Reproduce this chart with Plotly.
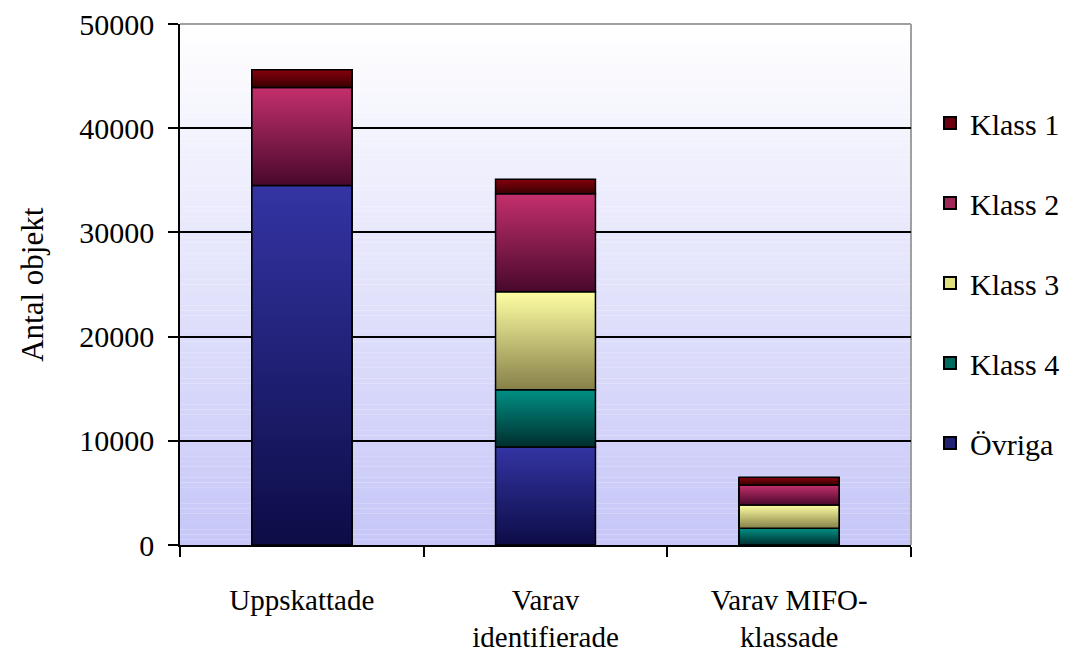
import plotly.graph_objects as go

# Categories (x axis) and stacked series values
categories = ["Uppskattade", "Varav<br>identifierade", "Varav MIFO-<br>klassade"]
ovriga = [34500, 9400, 0]
klass4 = [0, 5500, 1600]
klass3 = [0, 9400, 2250]
klass2 = [9400, 9400, 1900]
klass1 = [1700, 1400, 750]

y_ticks = [0, 10000, 20000, 30000, 40000, 50000]

FONT = "Liberation Serif"
BAR_W = 0.41

# name, values, legend colour, gradient (bottom -> top)
series = [
    ("Övriga", ovriga, "#222274", ("#0c0c46", "#3434a4")),
    ("Klass 4", klass4, "#006a60", ("#002e2e", "#009084")),
    ("Klass 3", klass3, "#e0e080", ("#868048", "#ffffa4")),
    ("Klass 2", klass2, "#a02858", ("#48082c", "#c4306c")),
    ("Klass 1", klass1, "#6b0010", ("#380000", "#86000e")),
]

xpos = list(range(len(categories)))
fig = go.Figure()

# Stacked bars (also provide the legend entries)
for i, (name, vals, col, _) in enumerate(series):
    fig.add_trace(go.Bar(
        x=xpos, y=vals, name=name, width=BAR_W,
        marker=dict(color=col, line=dict(color="black", width=1.5)),
        legendgroup=f"g{i}", legendrank=100 - i,
    ))

# Gradient-filled overlays for each stacked segment
base = [0] * len(categories)
for name, vals, col, (c0, c1) in series:
    for j, v in enumerate(vals):
        if v <= 0:
            continue
        b, t = base[j], base[j] + v
        xl, xr = xpos[j] - BAR_W / 2, xpos[j] + BAR_W / 2
        fig.add_trace(go.Scatter(
            x=[xl, xr, xr, xl, xl], y=[b, b, t, t, b],
            mode="lines", fill="toself",
            fillgradient=dict(type="vertical", colorscale=[[0, c0], [1, c1]]),
            line=dict(color="black", width=1.5),
            showlegend=False, hoverinfo="skip",
        ))
        base[j] = t

# Vertical white-to-lavender background of the plot area
shapes = []
n = 100
top_rgb = (255, 255, 255)
bot_rgb = (198, 198, 248)
for k in range(n):
    f = (k + 0.5) / n  # 0 at bottom, 1 at top
    r, g, b = (round(bot_rgb[c] + (top_rgb[c] - bot_rgb[c]) * f) for c in range(3))
    shapes.append(dict(
        type="rect", xref="x domain", yref="y domain", layer="below",
        x0=0, x1=1, y0=k / n, y1=min(1, (k + 1.02) / n),
        fillcolor=f"rgb({r},{g},{b})", line=dict(width=0),
    ))
# Grey frame on top and right
shapes.append(dict(type="line", xref="x domain", yref="y domain", layer="below",
                   x0=0, x1=1, y0=1, y1=1, line=dict(color="#a0a0a0", width=2)))
shapes.append(dict(type="line", xref="x domain", yref="y domain", layer="below",
                   x0=1, x1=1, y0=0, y1=1, line=dict(color="#a0a0a0", width=2)))

fig.update_layout(
    width=1077, height=667,
    margin=dict(l=180, r=164, t=24, b=122),
    paper_bgcolor="white", plot_bgcolor="white",
    barmode="stack",
    font=dict(family=FONT, size=29, color="black"),
    shapes=shapes,
    showlegend=True,
    legend=dict(
        x=1.026, xanchor="left", y=0.86, yanchor="top",
        traceorder="grouped", tracegroupgap=38, itemsizing="constant",
        font=dict(family=FONT, size=30, color="black"),
        bgcolor="rgba(0,0,0,0)",
    ),
    annotations=[dict(
        text="Antal objekt", textangle=-90, showarrow=False,
        xref="paper", yref="paper", x=-0.202, y=0.5,
        xanchor="center", yanchor="middle",
        font=dict(family=FONT, size=31, color="black"),
    )],
)

fig.update_xaxes(
    range=[-0.5, 2.5], tickvals=xpos, ticktext=categories,
    tickfont=dict(family=FONT, size=29, color="black"),
    showline=True, linecolor="black", linewidth=1.5,
    showgrid=False, zeroline=False, ticks="", automargin=False,
    ticklabelstandoff=28,
    minor=dict(tickvals=[-0.5, 0.5, 1.5, 2.5], ticks="outside",
               ticklen=10, tickcolor="black", tickwidth=1.5, showgrid=False),
)
fig.update_yaxes(
    range=[0, 50000], tickvals=y_ticks, ticktext=[str(v) for v in y_ticks],
    tickfont=dict(family=FONT, size=30, color="black"),
    showline=True, linecolor="black", linewidth=1.5,
    ticks="outside", ticklen=10, tickcolor="black", tickwidth=1.5,
    showgrid=False, zeroline=False, ticklabelstandoff=8, automargin=False,
    minor=dict(tickvals=y_ticks[1:-1], showgrid=True, gridcolor="black",
               gridwidth=1.5, ticks=""),
)

fig.write_html("out.html")
